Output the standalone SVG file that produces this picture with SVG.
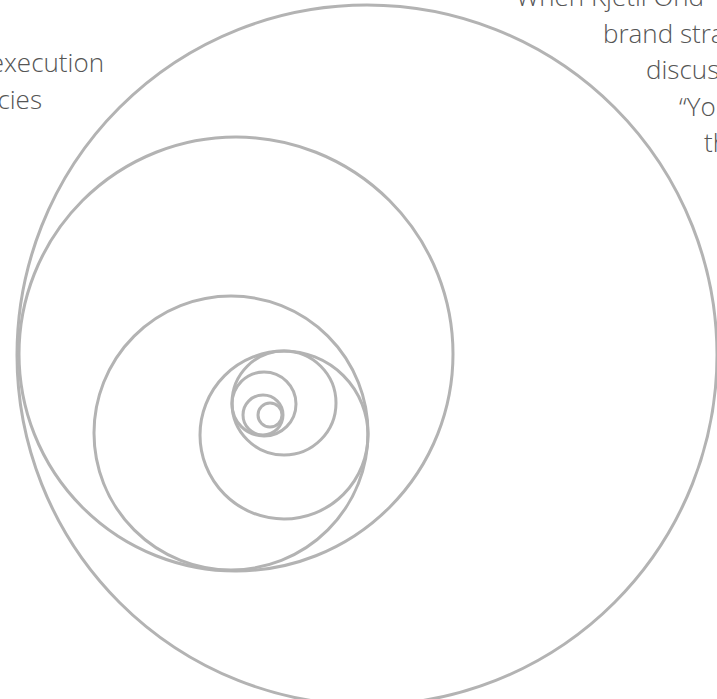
<svg xmlns="http://www.w3.org/2000/svg" width="717" height="699" viewBox="0 0 717 699">
<style>
.c{fill:none;stroke:#b3b3b3;stroke-width:3}
.t{font-family:"Open Sans","Noto Sans",sans-serif;font-weight:300;font-size:26px;fill:#555555}
</style>
<rect width="717" height="699" fill="#ffffff"/>
<g id="spiral">
<g id="circle1"><circle class="c" cx="367" cy="355" r="350"/></g>
<g id="circle2"><circle class="c" cx="236" cy="354" r="217"/></g>
<g id="circle3"><circle class="c" cx="231" cy="433" r="137"/></g>
<g id="circle4"><circle class="c" cx="284" cy="435" r="84"/></g>
<g id="circle5"><circle class="c" cx="284" cy="403" r="52"/></g>
<g id="circle6"><circle class="c" cx="264" cy="404" r="32"/></g>
<g id="circle7"><circle class="c" cx="263" cy="415" r="20"/></g>
<g id="circle8"><circle class="c" cx="270" cy="415" r="12"/></g>
</g>
<g id="text-left">
<text class="t" x="104" y="72" text-anchor="end">execution</text>
<text class="t" x="42" y="109" text-anchor="end">cies</text>
</g>
<g id="text-right">
<text class="t" x="516" y="6">When Kjetil Ond</text>
<text class="t" x="603" y="43">brand stra</text>
<text class="t" x="646" y="79">discus</text>
<text class="t" x="679" y="116">“Yo</text>
<text class="t" x="704" y="152">th</text>
</g>
</svg>
